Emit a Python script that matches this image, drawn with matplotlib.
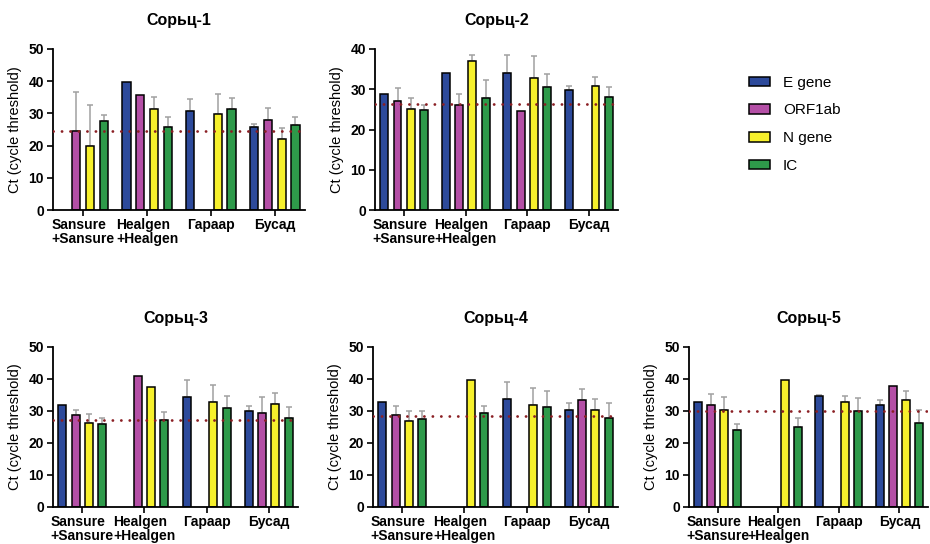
import numpy as np
import matplotlib
matplotlib.use('Agg')
import matplotlib.pyplot as plt
from matplotlib.patches import Patch

plt.rcParams['font.family'] = ['Liberation Sans', 'DejaVu Sans']

nan = np.nan

groups = ['Sansure\n+Sansure', 'Healgen\n+Healgen', 'Гараар', 'Бусад']
genes = ['E gene', 'ORF1ab', 'N gene', 'IC']
gene_colors = ['#2d4a9b', '#b44fa6', '#f6f02c', '#2e9a4a']
titles = ['Сорьц-1', 'Сорьц-2', 'Сорьц-3', 'Сорьц-4', 'Сорьц-5']

# mean Ct per gene (rows: E, ORF1ab, N, IC), columns follow groups
s1_mean = [[nan, 39.8, 30.8, 25.8],
           [24.6, 35.7, nan, 27.9],
           [20.0, 31.4, 29.9, 22.2],
           [27.5, 25.8, 31.4, 26.3]]
s1_sd = [[nan, nan, 3.7, 0.9],
         [11.9, nan, nan, 3.7],
         [12.7, 3.6, 6.1, 3.4],
         [2.1, 3.0, 3.5, 2.5]]

s2_mean = [[28.8, 34.0, 34.0, 29.9],
           [27.1, 26.0, 24.6, nan],
           [25.1, 36.9, 32.9, 30.7],
           [24.8, 27.9, 30.6, 28.0]]
s2_sd = [[nan, nan, 4.4, 1.0],
         [3.1, 2.8, nan, nan],
         [2.8, 1.5, 5.4, 2.4],
         [1.4, 4.3, 3.3, 2.6]]

s3_mean = [[31.9, nan, 34.5, 30.1],
           [28.6, 40.8, nan, 29.3],
           [26.4, 37.6, 32.9, 32.2],
           [25.8, 27.3, 30.8, 27.7]]
s3_sd = [[nan, nan, 5.2, 1.5],
         [1.6, nan, nan, 5.1],
         [2.7, nan, 5.2, 3.4],
         [2.1, 2.3, 3.8, 3.5]]

s4_mean = [[32.7, nan, 33.9, 30.4],
           [28.9, nan, nan, 33.3],
           [27.0, 39.8, 31.9, 30.4],
           [27.6, 29.4, 31.2, 27.8]]
s4_sd = [[nan, nan, 5.3, 2.1],
         [2.8, nan, nan, 3.7],
         [2.9, nan, 5.3, 3.4],
         [2.3, 2.2, 5.1, 4.8]]

s5_mean = [[32.7, nan, 34.6, 31.9],
           [31.9, nan, nan, 37.8],
           [30.4, 39.8, 32.7, 33.3],
           [24.0, 25.0, 30.1, 26.4]]
s5_sd = [[nan, nan, 0.5, 1.5],
         [3.5, nan, nan, nan],
         [4.1, nan, 1.9, 3.1],
         [1.8, 2.8, 4.0, 3.8]]

cutoffs = [24.5, 26.3, 27.1, 28.4, 30.0]
ymaxes = [50, 40, 50, 50, 50]

W, H = 930, 544
# axes boxes in pixels: left, top, right, bottom
boxes = [(53, 49, 305, 210), (375, 49, 618, 210),
         (53, 347, 298, 507), (373, 347, 618, 507), (689, 347, 928, 507)]

GSTEP = 4.65
BW = 0.6
GAP = 0.4

fig = plt.figure(figsize=(W / 100, H / 100), dpi=100)

panels = [(s1_mean, s1_sd), (s2_mean, s2_sd), (s3_mean, s3_sd),
          (s4_mean, s4_sd), (s5_mean, s5_sd)]

for p, (means, sds) in enumerate(panels):
    l, t, r, b = boxes[p]
    ax = fig.add_axes([l / W, 1 - b / H, (r - l) / W, (b - t) / H])
    centers = np.arange(len(groups)) * GSTEP
    for k in range(len(genes)):
        x = centers + (k - 1.5)
        vals = np.array(means[k], dtype=float)
        ax.bar(x, vals, width=BW, color=gene_colors[k], edgecolor='black',
               linewidth=1.1, zorder=2)
        for xi, v, sd in zip(x, vals, sds[k]):
            if np.isnan(v) or np.isnan(sd):
                continue
            ax.errorbar(xi, v, yerr=[[0], [sd]], color='#a0a0a0', lw=1.1,
                        capsize=2.3, capthick=1.1, zorder=1.5)
    ax.axhline(cutoffs[p], color='#8b1f24', lw=2.0, ls=(0, (0.05, 3.0)),
               dash_capstyle='round', zorder=3)

    ax.set_xlim(-1.5 - BW / 2 - GAP, 3 * GSTEP + 1.5 + BW / 2 + GAP)
    ax.set_ylim(0, ymaxes[p])
    ax.set_yticks(np.arange(0, ymaxes[p] + 1, 10))
    ax.set_xticks(centers)
    ax.set_xticklabels(groups)
    for lbl in ax.get_xticklabels():
        lbl.set_multialignment('left')
        lbl.set_linespacing(1.0)
        lbl.set_fontsize(10)
    for lbl in ax.get_xticklabels() + ax.get_yticklabels():
        lbl.set_fontweight('bold')
    ax.tick_params(axis='y', direction='out', length=4.5, width=1.2,
                   labelsize=10, pad=2, colors='black')
    ax.tick_params(axis='x', direction='out', length=4.5, width=1.2,
                   pad=1.5, colors='black')
    for side in ['top', 'right']:
        ax.spines[side].set_visible(False)
    for side in ['left', 'bottom']:
        ax.spines[side].set_linewidth(1.3)
    ax.set_ylabel('Ct (cycle threshold)', fontsize=10.5, labelpad=5)
    ax.set_title(titles[p], fontsize=11.5, fontweight='bold', pad=17)

handles = [Patch(facecolor=c, edgecolor='black', linewidth=1.1) for c in gene_colors]
fig.legend(handles, genes, loc='upper left', bbox_to_anchor=(735 / W, 1 - 62 / H),
           frameon=False, fontsize=11, handlelength=1.4, handleheight=0.6,
           handletextpad=0.85, labelspacing=0.9)

fig.savefig('out.png', dpi=100)
